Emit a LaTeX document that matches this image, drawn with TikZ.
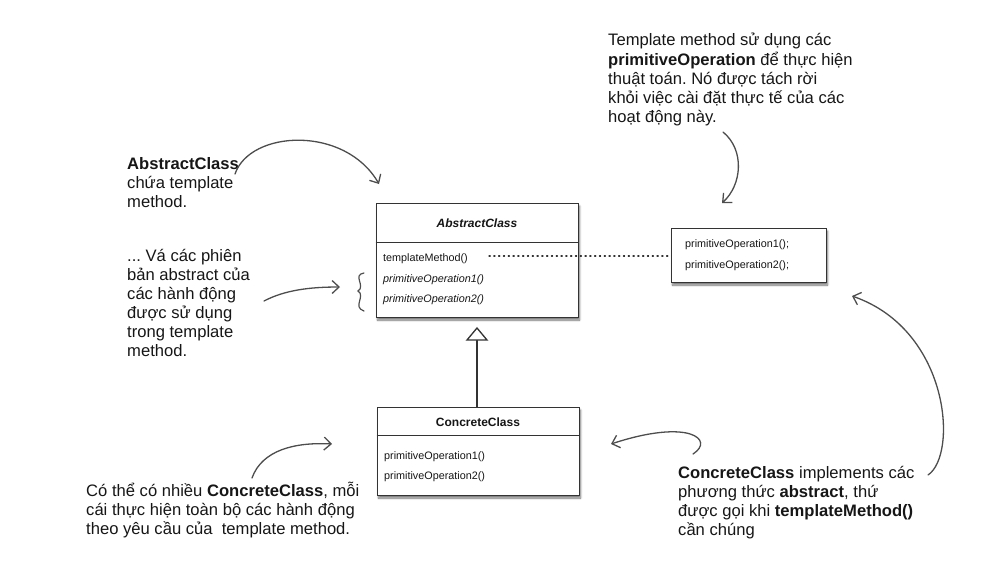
\documentclass[tikz,border=0pt]{standalone}
\usepackage{fontspec}
\setmainfont{Liberation Sans}
\usetikzlibrary{arrows.meta,shadows.blur}
\definecolor{ink}{HTML}{161616}
\definecolor{pen}{HTML}{4D4D4D}
\definecolor{boxline}{HTML}{333333}
\frenchspacing
\begin{document}
\begin{tikzpicture}[x=1pt,y=-1pt,
  note/.style={anchor=north west, align=left, inner sep=0pt, text=ink,
    font=\fontsize{16.6}{19}\selectfont},
  umlbox/.style={draw=boxline, line width=0.9pt, fill=white, inner sep=0pt,
    blur shadow={shadow xshift=1.5pt, shadow yshift=-3pt, shadow blur steps=6,
      shadow blur radius=2pt, shadow opacity=55}},
  umltitle/.style={inner sep=0pt, text=ink, font=\fontsize{12}{14}\selectfont\bfseries},
  umlop/.style={anchor=base west, inner sep=0pt, text=ink,
    font=\fontsize{10.8}{12}\selectfont},
  hand/.style={draw=pen, line width=1.3pt, line cap=round,
    -{Straight Barb[length=7pt, width=13pt, line width=1.3pt]}},
]
\useasboundingbox (0,0) rectangle (1002,582);

% ---- class boxes ----
\node[umlbox, minimum width=202pt, minimum height=114pt] (abs) at (477,260) {};
\draw[boxline, line width=0.9pt] (abs.west |- 0,242) -- (abs.east |- 0,242);
\node[umltitle, font=\fontsize{12}{14}\selectfont\bfseries\itshape] (abstitle) at (477,223) {AbstractClass};
\node[umlop] (tm) at (383,261) {templateMethod()};
\node[umlop, font=\fontsize{10.8}{12}\selectfont\itshape] (op1) at (383,282) {primitiveOperation1()};
\node[umlop, font=\fontsize{10.8}{12}\selectfont\itshape] (op2) at (383,302) {primitiveOperation2()};

\node[umlbox, minimum width=202pt, minimum height=88pt] (con) at (478,451) {};
\draw[boxline, line width=0.9pt] (con.west |- 0,435) -- (con.east |- 0,435);
\node[umltitle] (contitle) at (478,422) {ConcreteClass};
\node[umlop] (cop1) at (384,459) {primitiveOperation1()};
\node[umlop] (cop2) at (384,479) {primitiveOperation2()};

\node[umlbox, minimum width=155pt, minimum height=54pt] (prim) at (748.5,255) {};
\node[umlop] (pop1) at (685,247) {primitiveOperation1();};
\node[umlop] (pop2) at (685,268) {primitiveOperation2();};

% ---- inheritance: hollow triangle ----
\coordinate (tri) at (477,328);
\draw[boxline, line width=1.3pt] (con.north -| tri) -- ([yshift=-12pt]tri);
\draw[boxline, line width=1.3pt, line join=miter, fill=white]
  (tri) -- ++(-10,12) -- ++(20,0) -- cycle;

% ---- dotted link from templateMethod() to the primitive operations ----
\coordinate (dotstart) at (489,256);
\draw[boxline, line width=1.2pt, dash pattern=on 1.2pt off 3.6pt, line cap=round]
  (dotstart) -- (prim.west |- dotstart);

% ---- annotations ----
\node[note] (n1) at (127,155.7) {\strut\textbf{AbstractClass}\\chứa template\\method.};
\node[note] (n2) at (127,247.7) {\strut... Vá các phiên\\bản abstract của\\các hành động\\được sử dụng\\trong template\\method.};
\node[note] (n3) at (608,31.7) {\strut Template method sử dụng các\\\textbf{primitiveOperation} để thực hiện\\thuật toán. Nó được tách rời\\khỏi việc cài đặt thực tế của các\\hoạt động này.};
\node[note] (n4) at (86,481.7) {\strut Có thể có nhiều \textbf{ConcreteClass}, mỗi\\cái thực hiện toàn bộ các hành động\\theo yêu cầu của\ \ template method.};
\node[note] (n5) at (678,464.7) {\strut\textbf{ConcreteClass} implements các\\phương thức \textbf{abstract}, thứ\\được gọi khi \textbf{templateMethod()}\\cần chúng};

% ---- hand-drawn pointers ----
\coordinate (a1s) at (235,174);
\coordinate (a1e) at (379,184);
\draw[hand] (a1s) .. controls (250,130) and (345,125) .. (a1e);

\coordinate (a2s) at (264,301);
\coordinate (a2e) at (340,287);
\draw[hand] (a2s) .. controls (285,290) and (310,287) .. (a2e);
% curly brace in front of the abstract operations
\coordinate (brtop) at (364,273);
\draw[pen, line width=1.2pt, line cap=round]
  (brtop) .. controls (352,275) and (366,286) .. (358,291)
  .. controls (366,296) and (352,307) .. (364,311);

\coordinate (a3s) at (723,132);
\coordinate (a3e) at (722,203);
\draw[hand] (a3s) .. controls (745,150) and (742,185) .. (a3e);

\coordinate (a4s) at (252,478);
\coordinate (a4e) at (332,444);
\draw[hand] (a4s) .. controls (262,450) and (295,442) .. (a4e);

\coordinate (a5s) at (693,454);
\coordinate (a5e) at (611,444);
\draw[hand] (a5s) .. controls (715,440) and (690,418) .. (a5e);

\coordinate (a6s) at (928,475);
\coordinate (a6e) at (852,296);
\draw[hand] (a6s) .. controls (958,455) and (950,330) .. (a6e);
\end{tikzpicture}
\end{document}
